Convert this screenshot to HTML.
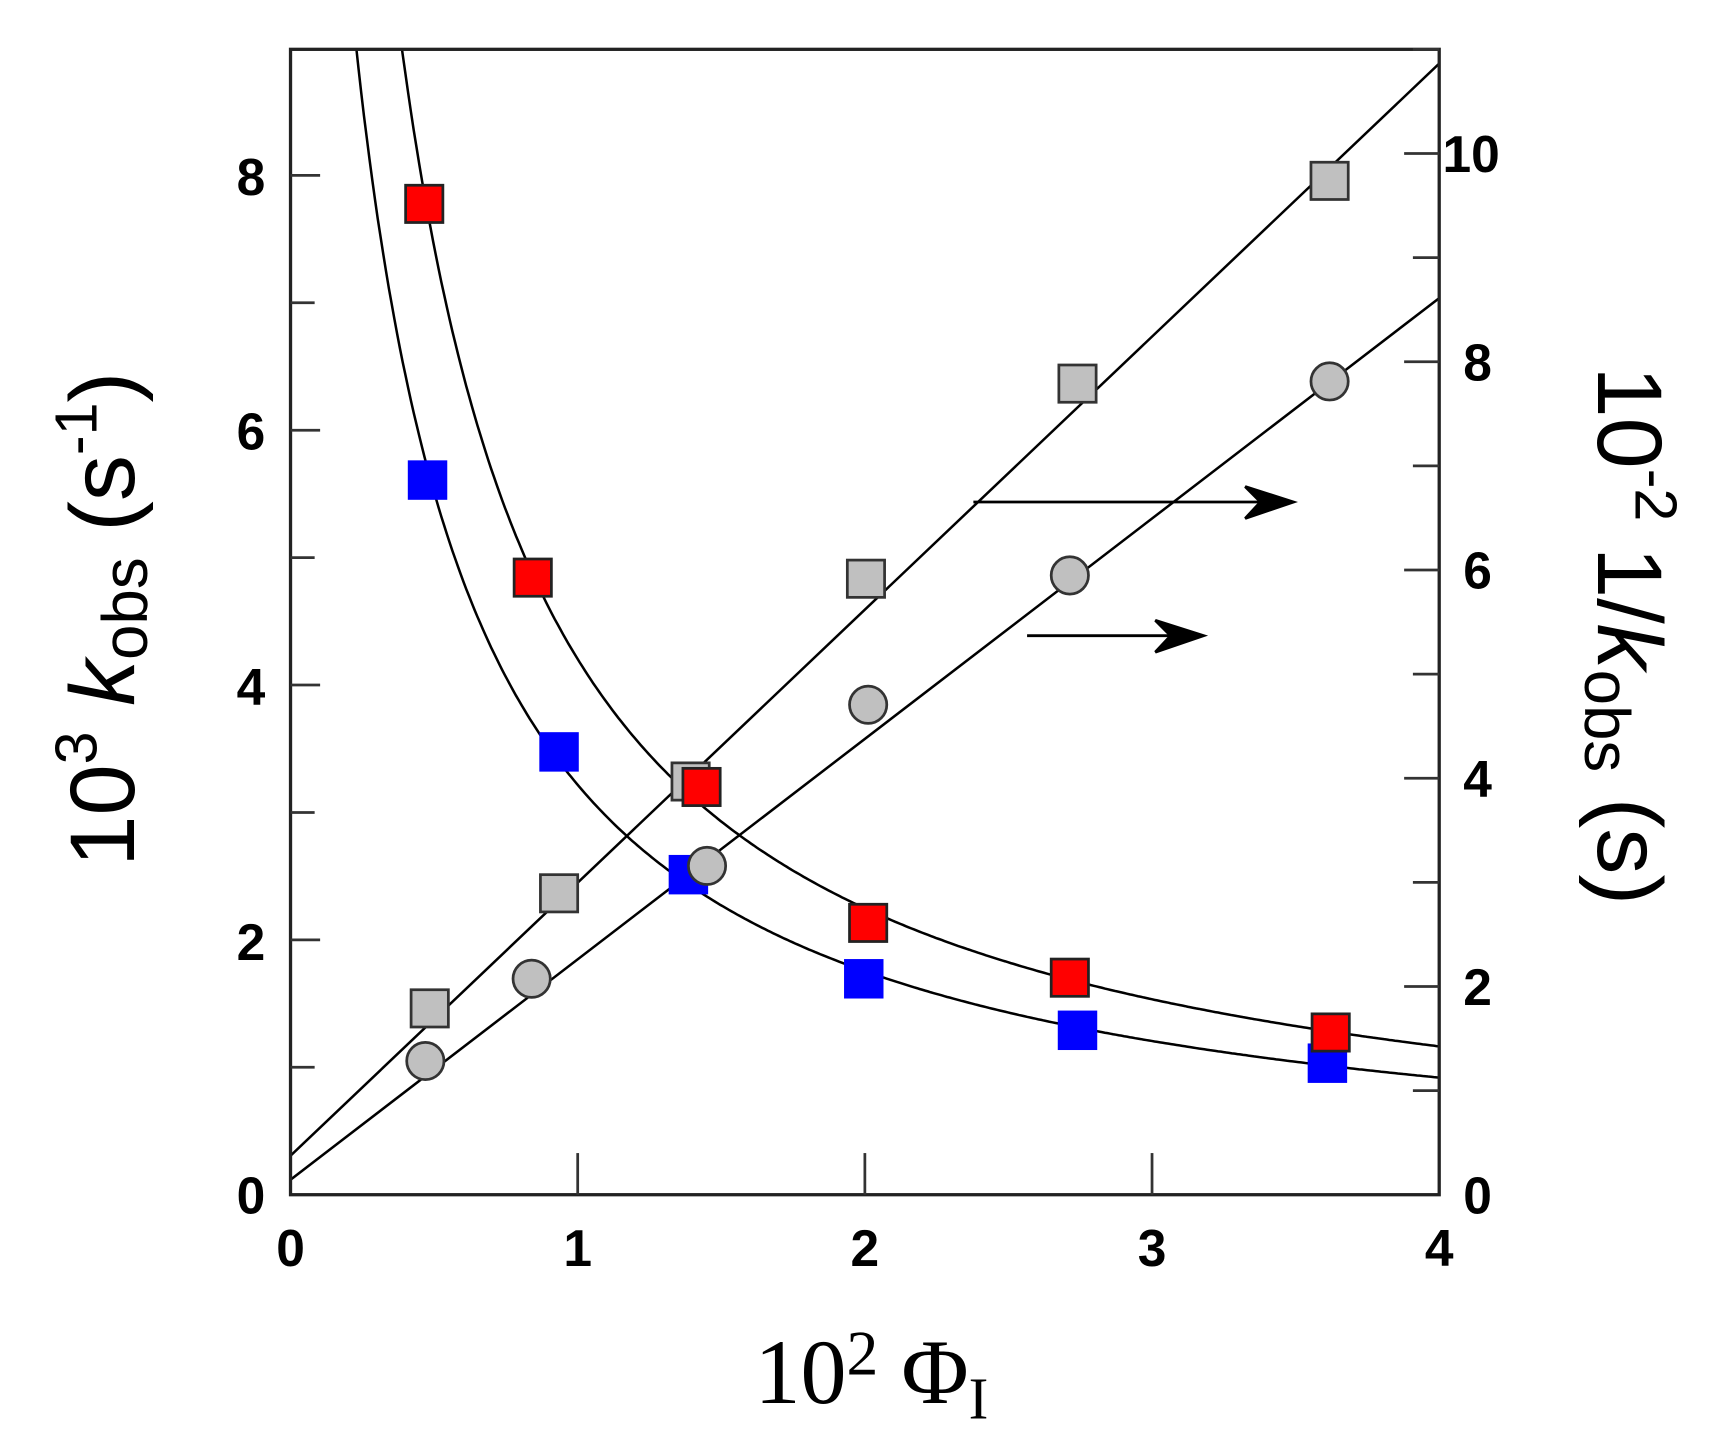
<!DOCTYPE html>
<html><head><meta charset="utf-8"><style>
html,body{margin:0;padding:0;background:#fff;}
svg{display:block;}
.t{font-family:"Liberation Sans",Arial,sans-serif;font-weight:bold;font-size:47px;fill:#000;}
</style></head><body>
<svg id="s" width="1710" height="1449" viewBox="0 0 1560 1322" xmlns="http://www.w3.org/2000/svg">
<defs><clipPath id="c"><rect x="265" y="45" width="1048" height="1045"/></clipPath></defs>
<g stroke="#000" stroke-width="2.3" fill="none" clip-path="url(#c)">
<line x1="265" y1="1054.4" x2="1313" y2="58"/>
<line x1="265" y1="1076.3" x2="1313" y2="272"/>
<path id="p1"/>
<path id="p2"/>
</g>
<g stroke="#000" stroke-width="2.6" fill="none">
<line x1="888" y1="458" x2="1172" y2="458"/>
<path d="M1136,444 L1180,458 L1136,473 L1150,458 Z" fill="#000"/>
<line x1="937" y1="580" x2="1090" y2="580"/>
<path d="M1054,566 L1098,580 L1054,595 L1068,580 Z" fill="#000"/>
</g>
<g id="pts"></g>
<rect x="265" y="45" width="1048" height="1045" fill="none" stroke="#222" stroke-width="3"/>
<g id="ticks" stroke="#333" stroke-width="2.5"></g>
<g class="t" text-anchor="end">
<text x="242" y="1107">0</text><text x="242" y="876">2</text><text x="242" y="643">4</text><text x="242" y="410">6</text><text x="242" y="178">8</text>
</g>
<g class="t">
<text x="1335" y="1107">0</text><text x="1335" y="917">2</text><text x="1335" y="727">4</text><text x="1335" y="537">6</text><text x="1335" y="347">8</text><text x="1316" y="157">10</text>
</g>
<g class="t" text-anchor="middle">
<text x="265" y="1155">0</text><text x="527" y="1155">1</text><text x="789" y="1155">2</text><text x="1051" y="1155">3</text><text x="1313" y="1155">4</text>
</g>
<text transform="translate(122,565) rotate(-90)" text-anchor="middle" font-family="Liberation Sans,Arial,sans-serif" font-size="84">10<tspan font-size="54" dy="-34">3</tspan><tspan dy="34"> </tspan><tspan font-style="italic">k</tspan><tspan font-size="58" dy="12">obs</tspan><tspan dy="-12"> (s</tspan><tspan font-size="54" dy="-34">-1</tspan><tspan dy="34">)</tspan></text>
<text transform="translate(1458,580) rotate(90)" text-anchor="middle" font-family="Liberation Sans,Arial,sans-serif" font-size="84">10<tspan font-size="54" dy="-34">-2</tspan><tspan dy="34"> 1/</tspan><tspan font-style="italic">k</tspan><tspan font-size="58" dy="12">obs</tspan><tspan dy="-12"> (s)</tspan></text>
<text x="795" y="1280" text-anchor="middle" font-family="Liberation Serif,serif" font-size="84">10<tspan font-size="58" dy="-26">2</tspan><tspan dy="26"> Φ</tspan><tspan font-size="54" dy="14">I</tspan></text>
</svg>
<script>
var X=function(x){return 265+x*262;},YL=function(y){return 1090-y*116.25;};
function curve(a,c){var d="";for(var i=0;i<=400;i++){var x=0.15+i*(3.85/400);var y=a/(x+c);d+=(i?"L":"M")+X(x).toFixed(1)+","+YL(y).toFixed(1);}return d;}
document.getElementById("p1").setAttribute("d",curve(4.83,0.149));
document.getElementById("p2").setAttribute("d",curve(3.86,0.2));
var g=document.getElementById("pts"),h="";
var gs=[[392,920],[510,815],[630,713],[790,528],[983,350],[1213,165]];
var gc=[[388,968],[485,893],[645,790],[792,643],[976,525],[1213,348]];
var bl=[[390,438],[510,686],[628,798],[788,893],[983,940],[1211,970]];
var rd=[[387,186],[486,527],[640,718],[792,842],[976,892],[1214,942]];
gs.forEach(function(p){h+='<rect x="'+(p[0]-17)+'" y="'+(p[1]-17)+'" width="34" height="34" fill="#c0c0c0" stroke="#333" stroke-width="2.5"/>';});
bl.forEach(function(p){h+='<rect x="'+(p[0]-18)+'" y="'+(p[1]-18)+'" width="36" height="36" fill="#0000ff"/>';});
gc.forEach(function(p){h+='<circle cx="'+p[0]+'" cy="'+p[1]+'" r="17" fill="#c0c0c0" stroke="#333" stroke-width="2.5"/>';});
rd.forEach(function(p){h+='<rect x="'+(p[0]-17)+'" y="'+(p[1]-17)+'" width="34" height="34" fill="#ff0000" stroke="#222" stroke-width="2.5"/>';});
g.innerHTML=h;
var t="";
for(var i=1;i<=8;i++){var y=YL(i);t+='<line x1="265" x2="'+(i%2?287:292)+'" y1="'+y+'" y2="'+y+'"/>';}
for(var i=1;i<=11;i++){var y=1090-i*95;t+='<line x1="1313" x2="'+(i%2?1289:1281)+'" y1="'+y+'" y2="'+y+'"/>';}
for(var i=1;i<=3;i++){var x=X(i);t+='<line x1="'+x+'" x2="'+x+'" y1="1090" y2="1052"/>';}
document.getElementById("ticks").innerHTML=t;
</script>
</body></html>
